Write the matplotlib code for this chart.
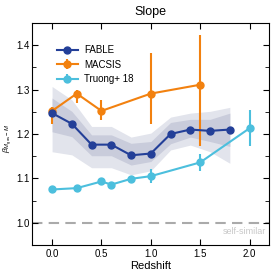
import numpy as np
import matplotlib.pyplot as plt
from matplotlib.ticker import MultipleLocator

plt.rcParams['font.family'] = ['Liberation Sans', 'DejaVu Sans']
plt.rcParams['mathtext.fontset'] = 'custom'
plt.rcParams['mathtext.it'] = 'Liberation Sans:italic'
plt.rcParams['mathtext.rm'] = 'Liberation Sans'

# FABLE
z_fable = [0.0, 0.2, 0.4, 0.6, 0.8, 1.0, 1.2, 1.4, 1.6, 1.8]
fable = [1.247, 1.223, 1.176, 1.176, 1.152, 1.156, 1.200, 1.210, 1.207, 1.210]
fable_lo1 = [1.205, 1.194, 1.151, 1.151, 1.130, 1.138, 1.178, 1.193, 1.183, 1.172]
fable_hi1 = [1.281, 1.251, 1.198, 1.198, 1.179, 1.183, 1.226, 1.233, 1.233, 1.247]
fable_lo2 = [1.160, 1.153, 1.124, 1.124, 1.108, 1.117, 1.164, 1.175, 1.160, 1.134]
fable_hi2 = [1.307, 1.277, 1.217, 1.217, 1.193, 1.202, 1.238, 1.247, 1.251, 1.260]

# MACSIS
z_macsis = [0.0, 0.25, 0.5, 1.0, 1.5]
macsis = [1.252, 1.291, 1.252, 1.291, 1.311]
macsis_lo = [1.222, 1.270, 1.232, 1.222, 1.172]
macsis_hi = [1.261, 1.298, 1.277, 1.382, 1.422]

# Truong+ 18
z_truong = [0.0, 0.25, 0.5, 0.6, 0.8, 1.0, 1.5, 2.0]
truong = [1.075, 1.078, 1.093, 1.086, 1.099, 1.105, 1.136, 1.213]
truong_err = [0.006, 0.005, 0.005, 0.006, 0.005, 0.015, 0.02, 0.041]

c_fable = '#233f98'
c_macsis = '#f2810f'
c_truong = '#4cbfdd'

fig = plt.figure(figsize=(2.74, 2.74), dpi=100)
ax = fig.add_axes([0.118, 0.106, 0.865, 0.81])

ax.fill_between(z_fable, fable_lo2, fable_hi2, color='#e2e4ec', lw=0, zorder=1)
ax.fill_between(z_fable, fable_lo1, fable_hi1, color='#c9ccdb', lw=0, zorder=2)

ax.axhline(1.0, color='#aaaaaa', ls=(0, (5, 3)), lw=1.5, zorder=0)
ax.text(2.17, 0.99, 'self-similar', color='#c8c8c8', fontsize=6.5,
        ha='right', va='top')

ax.plot(z_fable, fable, '-o', color=c_fable, ms=5, lw=1.5, label='FABLE', zorder=5)
yerr_m = [np.array(macsis) - np.array(macsis_lo), np.array(macsis_hi) - np.array(macsis)]
ax.errorbar(z_macsis, macsis, yerr=yerr_m, fmt='-o', color=c_macsis, ms=5, lw=1.5,
            elinewidth=1.5, capsize=0, label='MACSIS', zorder=4)
ax.errorbar(z_truong, truong, yerr=truong_err, fmt='-o', color=c_truong, ms=5, lw=1.5,
            elinewidth=1.5, capsize=0, label='Truong+ 18', zorder=3)

ax.set_xlim(-0.2, 2.2)
ax.set_ylim(0.95, 1.45)
ax.xaxis.set_major_locator(MultipleLocator(0.5))
ax.yaxis.set_major_locator(MultipleLocator(0.1))
ax.yaxis.set_minor_locator(MultipleLocator(0.05))
ax.tick_params(which='both', direction='in', top=True, right=True, labelsize=7, pad=3)
ax.tick_params(axis='y', pad=2)
ax.tick_params(which='major', length=4)
ax.tick_params(which='minor', length=3)
ax.tick_params(axis='x', which='minor', top=False, bottom=False)
ax.xaxis.set_major_formatter(plt.FuncFormatter(lambda v, p: f'{v:.1f}'))
ax.yaxis.set_major_formatter(plt.FuncFormatter(lambda v, p: f'{v:.1f}'))

ax.set_xlabel('Redshift', fontsize=8, labelpad=1)
ax.set_ylabel(r'$\beta_{M_{\rm gas}-M}$', fontsize=6)
ax.yaxis.set_label_coords(-0.078, 0.48)
ax.set_title('Slope', fontsize=9, pad=6)

ax.legend(loc='upper left', bbox_to_anchor=(0.07, 0.935), frameon=False, fontsize=7,
          handlelength=2.2, handletextpad=0.6, borderpad=0.3, labelspacing=0.45)

fig.savefig('out.png', dpi=100)
